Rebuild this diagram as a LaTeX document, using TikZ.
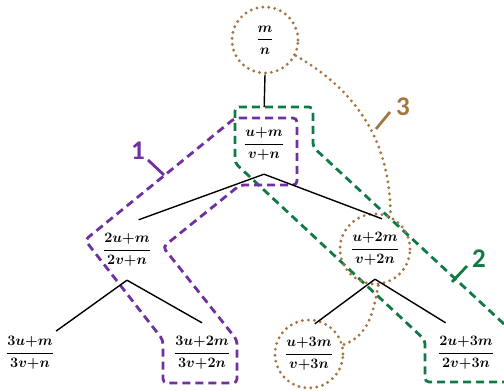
\documentclass[tikz,border=0pt]{standalone}
\usepackage{amsmath}
\usepackage{fontspec}
\newfontfamily\tagfont{Carlito}
\definecolor{pathpurple}{RGB}{112,48,160}
\definecolor{pathgreen}{RGB}{16,122,68}
\definecolor{pathbrown}{RGB}{166,118,64}
\newcommand{\pl}{\mathord{+}}

\begin{document}
\begin{tikzpicture}[x=1pt, y=-1pt,
    frac/.style={
        minimum height=60pt,
        minimum width=50pt,
        inner sep=2pt,
        font=\fontsize{15.5}{18}\selectfont\boldmath
    },
    ring/.style={
        circle,
        draw=pathbrown,
        line width=3.2pt,
        dash pattern=on 0pt off 6pt,
        line cap=round
    },
    brownchain/.style={
        draw=pathbrown,
        line width=3.2pt,
        dash pattern=on 0pt off 6pt,
        line cap=round
    },
    branch/.style={black, line width=1.4pt},
    region/.style={line width=2.8pt, dash pattern=on 8pt off 5pt, rounded corners=4pt},
    tag/.style={font=\tagfont\bfseries\fontsize{27}{27}\selectfont}
]
    \useasboundingbox (0,0) rectangle (504,391);

    % fractions of the tree
    \node[frac] (nmn) at (265,40) {$\dfrac{m}{n}$};
    \node[frac] (n1) at (264,144) {$\dfrac{u\pl m}{v\pl n}$};
    \node[frac] (n2l) at (127,250) {$\dfrac{2u\pl m}{2v\pl n}$};
    \node[frac] (n2r) at (375,249) {$\dfrac{u\pl 2m}{v\pl 2n}$};
    \node[frac] (n3a) at (30,353) {$\dfrac{3u\pl m}{3v\pl n}$};
    \node[frac] (n3b) at (202,353) {$\dfrac{3u\pl 2m}{3v\pl 2n}$};
    \node[frac] (n3c) at (309,354) {$\dfrac{u\pl 3m}{v\pl 3n}$};
    \node[frac] (n3d) at (466,353) {$\dfrac{2u\pl 3m}{2v\pl 3n}$};

    % path 2 (green)
    \draw[region, pathgreen] (504,324) -- (313,147) -- (313,107) -- (235,107)
        -- (235,163) -- (425,340) -- (425,382) -- (504,382);
    % path 1 (purple)
    \draw[region, pathpurple] (235,118) -- (297,118) -- (297,185) -- (240,185)
        -- (163,247) -- (237,340) -- (237,383) -- (163,383) -- (163,340)
        -- (85,240) -- cycle;

    % dotted rings and chain (path 3)
    \node[ring, minimum size=66pt] (r1) at (nmn) {};
    \node[ring, minimum size=70pt] (r2) at (n2r) {};
    \node[ring, minimum size=68pt] (r3) at (n3c) {};
    \draw[brownchain] (r1.-27) to[out=-30, in=90] (r2.65);
    \draw[brownchain] (r2.-85) to[out=-100, in=20] (r3.15);

    % tree branches
    \draw[branch, shorten >=7pt] (r1.south) -- (n1.north);
    \draw[branch] (n1.south) -- (n2l.69);
    \draw[branch] (n1.south) -- (n2r.77);
    \draw[branch] (n2l.south) -- (n3a.40);
    \draw[branch] (n2l.south) -- (n3b.north);
    \draw[branch] (n2r.south) -- (n3c.79);
    \draw[branch] (n2r.south) -- (n3d.124);

    % path labels
    \node[tag, text=pathpurple] (lab1) at (138,151) {1};
    \draw[pathpurple, line width=2.8pt] (164,175) -- (148,160);
    \node[tag, text=pathgreen] (lab2) at (479,259) {2};
    \draw[pathgreen, line width=2.8pt] (452,282) -- (467,266);
    \node[tag, text=pathbrown] (lab3) at (403,107) {3};
    \draw[pathbrown, line width=2.8pt] (376,129) -- (390,112);
\end{tikzpicture}
\end{document}
